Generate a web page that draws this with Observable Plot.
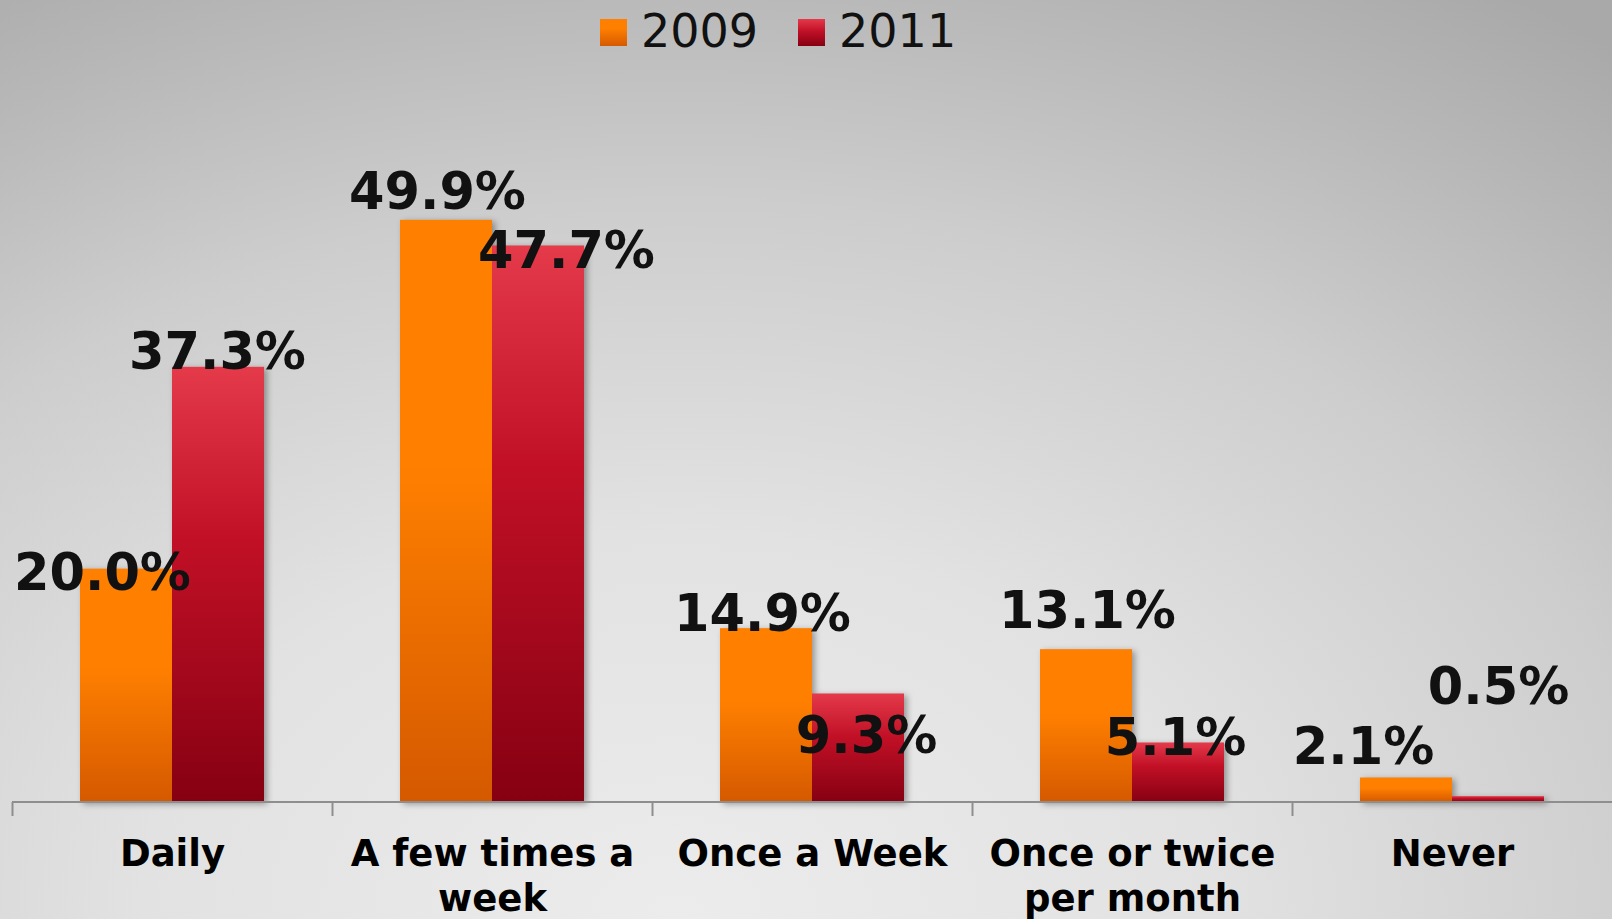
<!DOCTYPE html>
<html>
<head>
<meta charset="utf-8">
<script src="https://cdn.jsdelivr.net/npm/d3@7"></script>
<script src="https://cdn.jsdelivr.net/npm/@observablehq/plot@0.6"></script>
<style>
  html, body { margin: 0; padding: 0; }
  body {
    width: 1612px; height: 919px; overflow: hidden;
    background: radial-gradient(ellipse 95% 120% at 42% 100%, #ececec 0%, #e2e2e2 35%, #cdcdcd 65%, #b8b8b8 85%, #a9a9a9 100%);
    font-family: "DejaVu Sans", Verdana, sans-serif;
  }
  #legend {
    height: 62px; display: flex; align-items: center; padding-left: 600px; box-sizing: border-box;
    font-size: 46px; color: #111;
  }
  .sw { width: 27px; height: 27px; display: inline-block; margin-right: 14px; margin-top: 2px; }
  .item { display: flex; align-items: center; margin-right: 40px; }
  #chart svg g[aria-label="bar"] { filter: drop-shadow(3px 2px 3px rgba(0,0,0,0.35)); }
</style>
</head>
<body>
<svg width="0" height="0" style="position:absolute">
  <defs>
    <linearGradient id="g2009" x1="0" y1="0" x2="0" y2="1">
      <stop offset="0" stop-color="#ff8000"/>
      <stop offset="0.42" stop-color="#ff8000"/>
      <stop offset="1" stop-color="#d55900"/>
    </linearGradient>
    <linearGradient id="g2011" x1="0" y1="0" x2="0" y2="1">
      <stop offset="0" stop-color="#e43a4a"/>
      <stop offset="0.4" stop-color="#c11026"/>
      <stop offset="1" stop-color="#860012"/>
    </linearGradient>
  </defs>
</svg>
<div id="legend"></div>
<div id="chart"></div>
<script>
// ---- data ----
const categories = ["Daily", "A few times a week", "Once a Week", "Once or twice per month", "Never"];
const categoryTickLabels = ["Daily", "A few times a\nweek", "Once a Week", "Once or twice\nper month", "Never"];
const years = ["2009", "2011"];
const values2009 = [20.0, 49.9, 14.9, 13.1, 2.1];
const values2011 = [37.3, 47.7, 9.3, 5.1, 0.5];

// ---- layout (label nudges in px, relative to each bar top/centre) ----
const nudge2009 = [[-24, 21], [-9, -11], [-4, 2], [1, -22], [-43, -14]];
const nudge2011 = [[-1, 2], [28, 22], [8, 59], [-3, 12], [0, -93]];

const rows = [];
categories.forEach((c, i) => {
  rows.push({cat: c, year: "2009", value: values2009[i], nudge: nudge2009[i]});
  rows.push({cat: c, year: "2011", value: values2011[i], nudge: nudge2011[i]});
});
const tickLabel = new Map(categories.map((c, i) => [c, categoryTickLabels[i]]));
const fmt = v => d3.format(".1f")(v) + "%";

// legend
const legend = document.getElementById("legend");
const swatchBg = {"2009": "linear-gradient(#ff8000, #ff8000 35%, #d55900)", "2011": "linear-gradient(#e43a4a, #c11026 45%, #860012)"};
years.forEach(y => {
  const it = document.createElement("div"); it.className = "item";
  const sw = document.createElement("span"); sw.className = "sw"; sw.style.background = swatchBg[y];
  const t = document.createElement("span"); t.textContent = y;
  it.append(sw, t); legend.append(it);
});

// baseline + category boundary ticks drawn per facet from the scales
function baseline(index, scales, values, dimensions) {
  const xs = scales.x.range ? scales.x.range() : scales.scales.x.range;
  const y0 = scales.y(0);
  const g = document.createElementNS("http://www.w3.org/2000/svg", "g");
  const mk = (x1, y1, x2, y2) => {
    const l = document.createElementNS("http://www.w3.org/2000/svg", "line");
    l.setAttribute("x1", x1); l.setAttribute("y1", y1); l.setAttribute("x2", x2); l.setAttribute("y2", y2);
    l.setAttribute("stroke", "#8e8e8e"); l.setAttribute("stroke-width", 2);
    g.append(l);
  };
  mk(xs[0], y0, xs[1], y0);
  mk(xs[0] + 0.5, y0, xs[0] + 0.5, y0 + 14);
  return g;
}

const labelMarks = rows.map(r => Plot.text([r], {
  fx: "cat", x: "year", y: "value", text: d => fmt(d.value),
  lineAnchor: "bottom", dx: r.nudge[0], dy: r.nudge[1],
  fontSize: 51, fontWeight: "bold", fill: "#111"
}));

const plot = Plot.plot({
  width: 1612,
  height: 857,
  marginLeft: 12,
  marginRight: 0,
  marginTop: 40,
  marginBottom: 117,
  style: {background: "transparent", fontFamily: "DejaVu Sans, Verdana, sans-serif", color: "#000", overflow: "visible"},
  fx: {domain: categories, padding: 0, label: null},
  x: {domain: years, paddingInner: 0, paddingOuter: 0.73, axis: null},
  y: {domain: [0, 60], axis: null},
  color: {domain: years, range: ["url(#g2009)", "url(#g2011)"]},
  marks: [
    Plot.barY(rows, {fx: "cat", x: "year", y: "value", fill: "year"}),
    baseline,
    ...labelMarks,
    Plot.axisFx({anchor: "bottom", tickSize: 0, tickPadding: 31, fontSize: 37, fontWeight: "bold",
      lineHeight: 1.22, tickFormat: d => tickLabel.get(d), label: null})
  ]
});
document.getElementById("chart").append(plot);
</script>
</body>
</html>
